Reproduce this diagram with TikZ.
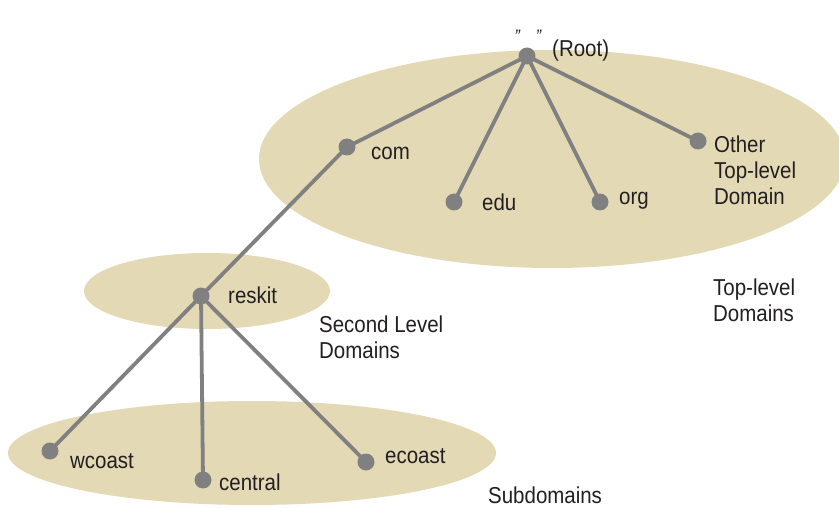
\documentclass[tikz,border=0pt]{standalone}
\usepackage{fontspec}
\setmainfont{Liberation Sans}[FakeStretch=0.89]
\pgfdeclarelayer{bg}
\pgfdeclarelayer{edges}
\pgfsetlayers{bg,edges,main}
\definecolor{zone}{HTML}{E3DAB5}
\definecolor{dotgray}{HTML}{808080}
\definecolor{ink}{HTML}{231F20}
\tikzset{
  dot/.style={circle,fill=dotgray,minimum size=17pt,inner sep=0pt},
  edge/.style={draw=dotgray,line width=3.8pt},
  lbl/.style={anchor=west,inner sep=0pt,text=ink,font=\fontsize{23}{26}\selectfont,align=left},
  zonefill/.style={fill=zone,draw=none}
}
\begin{document}
\begin{tikzpicture}[x=1pt,y=-1pt]
\useasboundingbox (0,0) rectangle (839,508);
\clip (0,0) rectangle (839,508);
\begin{pgfonlayer}{bg}
\fill[white] (0,0) rectangle (839,508);
\fill[zonefill] (552,159) ellipse [x radius=293, y radius=109];
\fill[zonefill] (207,291) ellipse [x radius=123, y radius=38];
\fill[zonefill] (252,453) ellipse [x radius=244, y radius=52];
\end{pgfonlayer}
% dots
\node[dot] (root) at (527,56) {};
\node[dot] (com) at (347,147) {};
\node[dot] (edu) at (454,202) {};
\node[dot] (org) at (600,202) {};
\node[dot] (other) at (698,141) {};
\node[dot] (reskit) at (201,296) {};
\node[dot] (wcoast) at (50,451) {};
\node[dot] (central) at (203,480) {};
\node[dot] (ecoast) at (366,462) {};
\begin{pgfonlayer}{edges}
\draw[edge] (root.center) -- (com.center);
\draw[edge] (root.center) -- (edu.center);
\draw[edge] (root.center) -- (org.center);
\draw[edge] (root.center) -- (other.center);
\draw[edge] (com.center) -- (reskit.center);
\draw[edge] (reskit.center) -- (wcoast.center);
\draw[edge] (reskit.center) -- (central.center);
\draw[edge] (reskit.center) -- (ecoast.center);
\end{pgfonlayer}
% labels
\node[lbl,anchor=center] (quotes) at (528,36) {\fontsize{18}{20}\selectfont\itshape "\hspace{16pt}"};
\node[lbl] (rootlbl) at (552,51) {(Root)};
\node[lbl] (comlbl) at (371,153) {com};
\node[lbl] (edulbl) at (482,202) {edu};
\node[lbl] (orglbl) at (619,201) {org};
\node[lbl] (otherlbl) at (714,170) {Other\\Top-level\\Domain};
\node[lbl] (reskitlbl) at (228,295) {reskit};
\node[lbl] (sldlbl) at (319,337) {Second Level\\Domains};
\node[lbl] (tldlbl) at (713,300) {Top-level\\Domains};
\node[lbl] (wcoastlbl) at (70,461) {wcoast};
\node[lbl] (centrallbl) at (219,482) {central};
\node[lbl] (ecoastlbl) at (385,456) {ecoast};
\node[lbl] (sublbl) at (488,495) {Subdomains};
\end{tikzpicture}
\end{document}
